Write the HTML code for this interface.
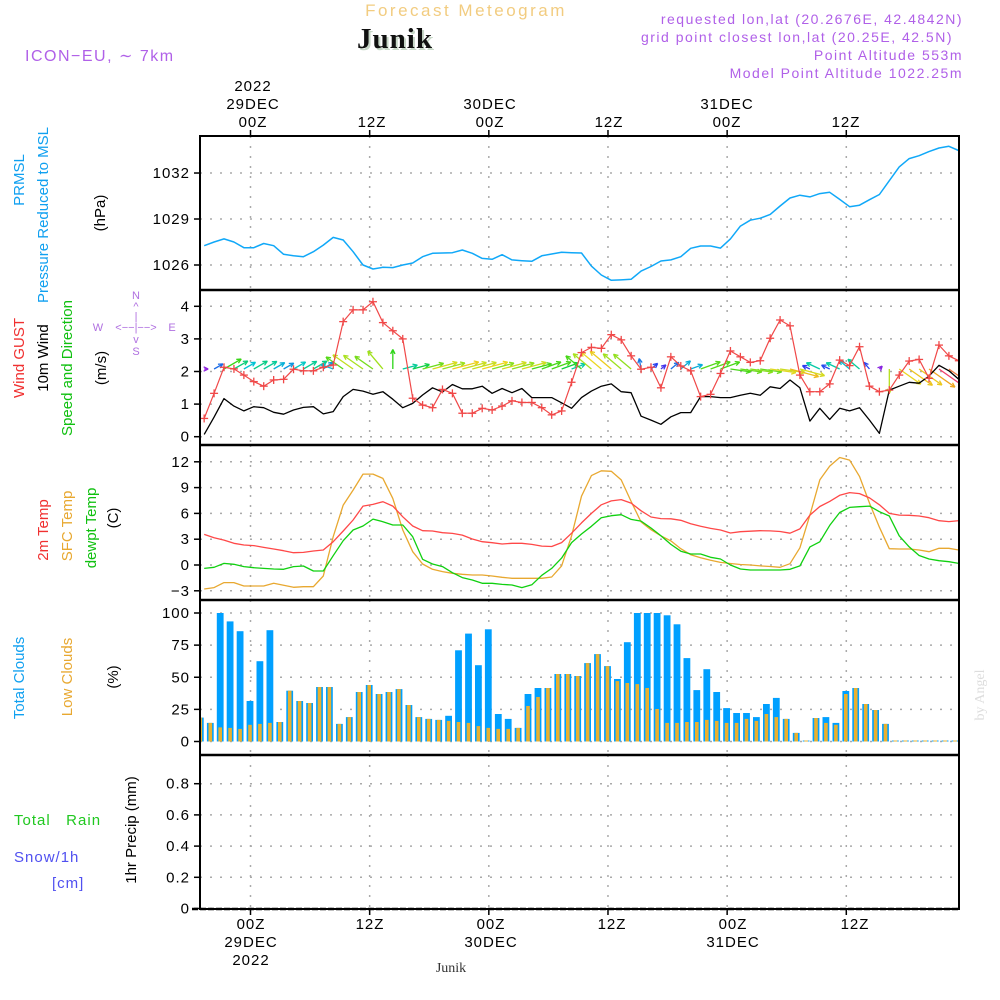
<!DOCTYPE html>
<html><head><meta charset="utf-8"><title>Forecast Meteogram Junik</title>
<style>
html,body{margin:0;padding:0;background:#fff;}
svg{display:block;}
text{font-family:"Liberation Sans",sans-serif;}
.tk{font-size:15px;fill:#000;letter-spacing:1px;}
.hd{font-size:14px;fill:#b060e8;letter-spacing:1.5px;}
.lab{font-size:15px;}
</style></head>
<body>
<svg id="chart" width="1000" height="1000" viewBox="0 0 1000 1000" xmlns="http://www.w3.org/2000/svg">
  <defs><clipPath id="plotclip"><rect x="201" y="137" width="757" height="771"/></clipPath></defs>
  <!-- header -->
  <text x="466" y="16" text-anchor="middle" style="font-size:17px;fill:#f2cc80;letter-spacing:2.5px">Forecast Meteogram</text>
  <text x="397" y="50" text-anchor="middle" style="font-family:'Liberation Serif',serif;font-size:29px;font-weight:bold;fill:#c8d8c8;letter-spacing:1px">Junik</text>
  <text x="395" y="48" text-anchor="middle" style="font-family:'Liberation Serif',serif;font-size:29px;font-weight:bold;fill:#111;letter-spacing:1px">Junik</text>
  <text x="25" y="61" class="hd" style="font-size:16px">ICON−EU, ∼ 7km</text>
  <text x="963" y="24" text-anchor="end" class="hd">requested lon,lat (20.2676E, 42.4842N)</text>
  <text x="953" y="42" text-anchor="end" class="hd">grid point closest lon,lat (20.25E, 42.5N)</text>
  <text x="963" y="60" text-anchor="end" class="hd">Point Altitude 553m</text>
  <text x="963" y="78" text-anchor="end" class="hd">Model Point Altitude 1022.25m</text>

  <!-- left axis titles -->
  <g>
    <text transform="translate(24,180) rotate(-90)" text-anchor="middle" class="lab" fill="#10a0f0">PRMSL</text>
    <text transform="translate(48,215) rotate(-90)" text-anchor="middle" class="lab" fill="#10a0f0">Pressure Reduced to MSL</text>
    <text transform="translate(105,213) rotate(-90)" text-anchor="middle" class="lab" fill="#000">(hPa)</text>
  </g>
  <g>
    <text transform="translate(24,358) rotate(-90)" text-anchor="middle" class="lab" fill="#f03030">Wind GUST</text>
    <text transform="translate(48,358) rotate(-90)" text-anchor="middle" class="lab" fill="#000">10m Wind</text>
    <text transform="translate(72,368) rotate(-90)" text-anchor="middle" class="lab" fill="#10c010">Speed and Direction</text>
    <text transform="translate(106,368) rotate(-90)" text-anchor="middle" class="lab" fill="#000">(m/s)</text>
  </g>
  <g style="font-size:11px;fill:#b070e0">
    <text x="136" y="299" text-anchor="middle">N</text>
    <text x="136" y="310" text-anchor="middle">^</text>
    <text x="136" y="320" text-anchor="middle">|</text>
    <text x="98" y="331" text-anchor="middle">W</text>
    <text x="136" y="331" text-anchor="middle">&lt;−−|−−&gt;</text>
    <text x="172" y="331" text-anchor="middle">E</text>
    <text x="136" y="343" text-anchor="middle">v</text>
    <text x="136" y="355" text-anchor="middle">S</text>
  </g>
  <g>
    <text transform="translate(48,530) rotate(-90)" text-anchor="middle" class="lab" fill="#f03030">2m Temp</text>
    <text transform="translate(72,526) rotate(-90)" text-anchor="middle" class="lab" fill="#e8a830">SFC Temp</text>
    <text transform="translate(96,528) rotate(-90)" text-anchor="middle" class="lab" fill="#10c010">dewpt Temp</text>
    <text transform="translate(118,518) rotate(-90)" text-anchor="middle" class="lab" fill="#000">(C)</text>
  </g>
  <g>
    <text transform="translate(24,678) rotate(-90)" text-anchor="middle" class="lab" fill="#10a0f0">Total Clouds</text>
    <text transform="translate(72,677) rotate(-90)" text-anchor="middle" class="lab" fill="#e8a830">Low Clouds</text>
    <text transform="translate(118,677) rotate(-90)" text-anchor="middle" class="lab" fill="#000">(%)</text>
  </g>
  <g>
    <text transform="translate(136,830) rotate(-90)" text-anchor="middle" class="lab" fill="#000">1hr Precip (mm)</text>
    <text x="14" y="825" class="lab" fill="#20c820" style="letter-spacing:1px">Total&#160;&#160;&#160;Rain</text>
    <text x="14" y="862" class="lab" fill="#5050f0" style="letter-spacing:1px">Snow/1h</text>
    <text x="52" y="888" class="lab" fill="#5050f0" style="letter-spacing:1px">[cm]</text>
  </g>
  <text transform="translate(984,695) rotate(-90)" text-anchor="middle" style="font-family:'Liberation Serif',serif;font-size:14px;fill:#ddd">by Angel</text>

  <!-- top time labels -->
  <g class="tk">
    <text x="253" y="91" text-anchor="middle" class="tk">2022</text>
    <text x="253" y="109" text-anchor="middle" class="tk">29DEC</text>
    <text x="253" y="127" text-anchor="middle" class="tk">00Z</text>
    <text x="372" y="127" text-anchor="middle" class="tk">12Z</text>
    <text x="490" y="109" text-anchor="middle" class="tk">30DEC</text>
    <text x="490" y="127" text-anchor="middle" class="tk">00Z</text>
    <text x="609" y="127" text-anchor="middle" class="tk">12Z</text>
    <text x="727" y="109" text-anchor="middle" class="tk">31DEC</text>
    <text x="727" y="127" text-anchor="middle" class="tk">00Z</text>
    <text x="846" y="127" text-anchor="middle" class="tk">12Z</text>
  </g>
  <!-- bottom time labels -->
  <g>
    <text x="251" y="929" text-anchor="middle" class="tk">00Z</text>
    <text x="251" y="947" text-anchor="middle" class="tk">29DEC</text>
    <text x="251" y="965" text-anchor="middle" class="tk">2022</text>
    <text x="370" y="929" text-anchor="middle" class="tk">12Z</text>
    <text x="491" y="929" text-anchor="middle" class="tk">00Z</text>
    <text x="491" y="947" text-anchor="middle" class="tk">30DEC</text>
    <text x="612" y="929" text-anchor="middle" class="tk">12Z</text>
    <text x="733" y="929" text-anchor="middle" class="tk">00Z</text>
    <text x="733" y="947" text-anchor="middle" class="tk">31DEC</text>
    <text x="855" y="929" text-anchor="middle" class="tk">12Z</text>
    <text x="451" y="972" text-anchor="middle" style="font-family:'Liberation Serif',serif;font-size:14px;fill:#333">Junik</text>
  </g>
  <g id="axes"></g>
  <g id="plot" clip-path="url(#plotclip)"></g>
  <g id="frames"></g>
</svg>
<script>
// ---- data (hours -5 .. 71 relative to 29DEC 00Z) ----
var hours = [];
for (var i = -5; i <= 71; i++) hours.push(i);
var pressure = [1027.26,1027.5,1027.7,1027.5,1027.13,1027.13,1027.4,1027.26,1026.7,1026.6,1026.54,1026.87,1027.3,1027.8,1027.63,1026.87,1026.0,1025.74,1025.85,1025.83,1026.0,1026.13,1026.54,1026.76,1026.78,1026.8,1026.98,1026.76,1026.43,1026.37,1026.67,1026.33,1026.28,1026.24,1026.6,1026.72,1026.83,1026.8,1026.78,1025.93,1025.35,1025.0,1025.03,1025.07,1025.6,1025.9,1026.26,1026.33,1026.54,1027.09,1027.24,1027.24,1027.1,1027.7,1028.54,1028.92,1029.05,1029.3,1029.85,1030.37,1030.55,1030.44,1030.66,1030.74,1030.28,1029.8,1029.9,1030.26,1030.6,1031.5,1032.4,1032.94,1033.13,1033.4,1033.63,1033.74,1033.46];
var windSpeed = [0.07,0.6,1.17,0.94,0.79,0.92,0.89,0.75,0.69,0.82,0.9,0.92,0.7,0.77,1.23,1.45,1.4,1.3,1.38,1.15,0.89,1.02,1.28,1.5,1.37,1.6,1.47,1.47,1.55,1.33,1.48,1.35,1.48,1.2,1.2,1.2,1.04,0.87,1.2,1.4,1.55,1.62,1.38,1.35,0.63,0.51,0.38,0.61,0.74,0.74,1.23,1.23,1.2,1.2,1.27,1.33,1.27,1.53,1.48,1.74,1.5,0.48,0.87,0.53,0.87,0.79,0.89,0.51,0.1,1.43,1.55,1.67,1.64,1.86,2.19,2.02,1.76];
var windGust = [0.56,1.33,2.13,2.08,1.89,1.69,1.55,1.74,1.76,2.07,2.02,2.02,2.13,2.2,3.53,3.89,3.89,4.14,3.5,3.25,3.0,1.18,0.97,0.89,1.45,1.33,0.72,0.72,0.87,0.82,0.94,1.1,1.05,1.05,0.89,0.67,0.79,1.67,2.58,2.74,2.71,3.13,2.97,2.48,2.07,2.13,1.5,2.45,2.17,2.02,1.23,1.3,1.94,2.63,2.45,2.28,2.33,3.02,3.58,3.4,1.89,1.38,1.38,1.62,2.35,2.18,2.76,1.55,1.38,1.43,1.89,2.32,2.37,1.79,2.81,2.48,2.33];
var windDirAngle = [0,30,30,30,30,30,30,30,30,30,30,30,35,160,145,145,145,145,130,90,15,15,15,15,15,15,15,15,15,15,15,15,15,15,20,20,20,20,140,140,140,140,140,140,100,40,40,40,40,20,20,20,20,-8,-8,-8,-8,-8,-8,-15,-15,155,155,155,155,140,140,130,45,-90,-35,-35,-35,-35,-35,-35,-35];
var temp2m = [3.56,3.17,2.9,2.52,2.32,2.25,2.05,1.86,1.66,1.43,1.47,1.63,1.74,2.71,3.95,5.23,6.85,7.05,7.36,6.85,5.61,4.53,3.99,3.95,3.76,3.68,3.48,3.02,2.71,2.59,2.44,2.52,2.52,2.4,2.2,2.15,2.6,3.7,4.9,6.0,7.0,7.45,7.6,7.2,6.3,5.58,5.4,5.37,5.2,4.8,4.5,4.26,4.07,3.72,3.87,3.93,3.99,3.97,3.9,3.7,4.2,5.8,6.8,7.4,8.1,8.42,8.3,7.8,7.0,6.0,5.8,5.78,5.7,5.5,5.15,5.05,5.15];
var tempSfc = [-2.79,-2.63,-2.05,-2.05,-2.44,-2.44,-2.44,-2.13,-2.36,-2.59,-2.52,-2.52,-1.28,3.29,6.97,8.71,10.57,10.57,10.07,7.74,4.07,1.55,0.12,-0.5,-0.77,-0.97,-1.08,-1.16,-1.16,-1.28,-1.43,-1.55,-1.55,-1.55,-1.55,-1.4,-0.1,3.4,8.0,10.4,10.95,10.9,9.9,7.4,5.0,4.1,3.4,2.8,1.9,1.2,0.85,0.55,0.3,0.18,0.06,0,-0.1,-0.18,-0.27,0.15,2.0,5.8,9.9,11.5,12.5,12.2,10.3,7.2,4.4,1.9,1.86,1.86,1.74,1.55,1.94,1.94,1.74];
var dewpoint = [-0.39,-0.27,0.19,0.08,-0.19,-0.31,-0.39,-0.46,-0.5,-0.19,-0.12,-0.7,-0.7,1.08,2.83,4.07,4.53,5.34,5.03,4.65,4.65,3.29,0.66,0.12,-0.19,-0.89,-1.47,-1.74,-2.13,-2.13,-2.25,-2.32,-2.63,-2.3,-1.2,-0.4,0.8,2.6,3.6,4.5,5.5,5.73,5.85,5.3,5.1,4.3,3.4,2.4,1.6,1.28,1.28,0.89,0.7,0,-0.46,-0.58,-0.58,-0.58,-0.58,-0.5,-0.1,2.1,2.7,4.6,6.1,6.7,6.78,6.85,6.2,5.7,3.4,2.1,1.1,0.7,0.5,0.38,0.19];
var totalClouds = [18.6,14.5,100,93.5,85.8,31.5,62.5,86.6,15.2,39.5,31.5,30,42.4,42.4,13.7,19,38.5,44,37,38.5,40.8,28.4,19,17.6,16.8,20,71,84,59.4,87.3,21.4,17.6,10.6,37,41.6,41.6,52.5,52.5,51,61,68,58.7,48.6,77.3,100,100,100,98.2,91.2,64.9,40,56.3,38.5,26,22.2,22.2,19,29.2,33.9,17.6,6.7,0.5,18.3,19,14.5,39.3,41.6,29.2,24.5,13.7,0,0,0,0,0,0,0];
var lowClouds = [18.6,14.5,11,10.6,9.8,13,13.7,14.5,15.2,39.5,31.5,30,42.4,42.4,13.7,19,38.5,44,37,38.5,40.8,28.4,19,17.6,16.8,16,15.2,14.5,12,10.6,9.8,9.8,10.6,27.6,34.6,41.6,52.5,52.5,51,61,68,58.7,47,45.5,44.7,41.6,25.3,14.5,14.5,15.2,15.2,16.8,16,14.5,14.5,17.6,16,21.4,19,17.6,6.7,0.5,18.3,14.5,13,37,41.6,29.2,24.5,13.7,0,0,0,0,0,0,0];
var precip = hours.map(function(){return 0;});
var timeTicks = [0,12,24,36,48,60];
var pressTicks = [1026,1029,1032];
var windTicks = [0,1,2,3,4];
var tempTicks = [-3,0,3,6,9,12];
var cloudTicks = [0,25,50,75,100];
var precipTicks = [0,0.2,0.4,0.6,0.8];

// ---- layout ----
var X0 = 200, X1 = 959;
function xScale(h){ return 250.5 + 9.93*h; }
var LINE_SHIFT = 3.3;
function xl(h){ return xScale(h) + LINE_SHIFT; }
var panels = {
  press: {top:136, bot:290, y:function(v){return 265 - (v-1026)*15.33;}},
  wind:  {top:290, bot:445, y:function(v){return 436.7 - v*32.6;}},
  temp:  {top:445, bot:600, y:function(v){return 565 - v*8.6;}},
  cloud: {top:600, bot:755, y:function(v){return 741.5 - v*1.285;}},
  precip:{top:755, bot:909, y:function(v){return 908.5 - v*156;}}
};
var NS = "http://www.w3.org/2000/svg";
var plot = document.getElementById('plot');
var axes = document.getElementById('axes');
var frames = document.getElementById('frames');
function mk(tag, attrs, parent){
  var e = document.createElementNS(NS, tag);
  for (var k in attrs) e.setAttribute(k, attrs[k]);
  (parent||plot).appendChild(e);
  return e;
}
function lineOf(arr, yfn, color, name, width){
  var pts = arr.map(function(v,i){ return xl(hours[i]).toFixed(1)+','+yfn(v).toFixed(1); }).join(' ');
  var p = mk('polyline', {points:pts, fill:'none', stroke:color, 'stroke-width':width||1.3, 'stroke-linejoin':'round'});
  
  
  return p;
}
function gridAndTicks(pn, ticks, fmt, name){
  var P = panels[pn];
  var g = mk('g', {}, axes);
  
  
  ticks.forEach(function(t){
    var y = P.y(t);
    mk('line', {x1:X0, x2:X1, y1:y, y2:y, stroke:'#aaa', 'stroke-width':1.5, 'stroke-dasharray':'2,8'}, g);
    mk('line', {x1:X0-6, x2:X0, y1:y, y2:y, stroke:'#000', 'stroke-width':1.5}, g);
    var tx = mk('text', {x:X0-10, y:y+5, 'text-anchor':'end', 'class':'tk'}, g);
    tx.textContent = fmt(t);
  });
  timeTicks.forEach(function(h){
    var x = xScale(h);
    mk('line', {x1:x, x2:x, y1:P.top, y2:P.bot, stroke:'#aaa', 'stroke-width':1.5, 'stroke-dasharray':'2,8'}, g);
  });
}
gridAndTicks('press', pressTicks, function(t){return String(t);}, 'pressure-grid');
gridAndTicks('wind', windTicks, function(t){return String(t);}, 'wind-grid');
gridAndTicks('temp', tempTicks, function(t){return t<0?'−'+(-t):String(t);}, 'temperature-grid');
gridAndTicks('cloud', cloudTicks, function(t){return String(t);}, 'cloud-grid');
gridAndTicks('precip', precipTicks, function(t){return t===0?'0':t.toFixed(1);}, 'precip-grid');

timeTicks.forEach(function(h){
  var t = mk('line', {x1:xScale(h), x2:xScale(h), y1:130, y2:136, stroke:'#000', 'stroke-width':1.5}, axes);
  
  
});

// pressure
lineOf(pressure, panels.press.y, '#10a8f8', 'pressure-line', 1.5);

// wind arrows
function speedColor(s){
  var stops = [[0,[160,30,220]],[0.5,[40,60,240]],[0.8,[0,200,210]],[1.1,[20,210,20]],[1.4,[170,225,30]],[1.55,[235,215,30]],[1.9,[240,160,30]],[2.3,[240,30,140]]];
  if (s<=stops[0][0]) return 'rgb('+stops[0][1].join(',')+')';
  for (var i=1;i<stops.length;i++){
    if (s<=stops[i][0]){
      var a=stops[i-1], b=stops[i], f=(s-a[0])/(b[0]-a[0]);
      var c=a[1].map(function(v,j){return Math.round(v+(b[1][j]-v)*f);});
      return 'rgb('+c.join(',')+')';
    }
  }
  return 'rgb('+stops[stops.length-1][1].join(',')+')';
}
var arrowG = mk('g', {});


windSpeed.forEach(function(s,i){
  var x = xl(hours[i]), y = 369;
  var a = windDirAngle[i]*Math.PI/180;
  var len = Math.max(4, 17*s);
  var x2 = x + len*Math.cos(a), y2 = y - len*Math.sin(a);
  var col = speedColor(s);
  var g = mk('g', {stroke:col, 'stroke-width':1.3, fill:'none'}, arrowG);
  
  
  mk('line', {x1:x, y1:y, x2:x2, y2:y2}, g);
  var hl = 5;
  [a+Math.PI-0.45, a+Math.PI+0.45].forEach(function(b){
    mk('line', {x1:x2, y1:y2, x2:x2+hl*Math.cos(b), y2:y2-hl*Math.sin(b)}, g);
  });
});
lineOf(windSpeed, panels.wind.y, '#000', 'wind-speed-line', 1.3);
lineOf(windGust, panels.wind.y, '#f04848', 'wind-gust-line', 1.2);
var gm = mk('g', {stroke:'#f04848', 'stroke-width':1.3});


windGust.forEach(function(v,i){
  var x = xl(hours[i]), y = panels.wind.y(v);
  mk('line', {x1:x-4, x2:x+4, y1:y, y2:y}, gm);
  mk('line', {x1:x, x2:x, y1:y-4, y2:y+4}, gm);
});

// temperatures
lineOf(tempSfc, panels.temp.y, '#e8a830', 'sfc-temp-line', 1.3);
lineOf(dewpoint, panels.temp.y, '#10d010', 'dewpoint-line', 1.3);
lineOf(temp2m, panels.temp.y, '#ff4848', 'temp-2m-line', 1.3);

// clouds
var cg = mk('g', {});


var y0c = panels.cloud.y(0);
totalClouds.forEach(function(v,i){
  var xc = xScale(hours[i]) - 0.5;
  var yt = panels.cloud.y(v);
  var h1 = Math.max(1, y0c-yt);
  var b = mk('rect', {x:(xc-3.4).toFixed(1), y:(y0c-h1).toFixed(1), width:6.8, height:h1.toFixed(1), fill:'#00a0ff'}, cg);
  
  
  var yl = panels.cloud.y(lowClouds[i]);
  var h2 = Math.max(1, y0c-yl);
  var o = mk('rect', {x:(xc-1.8).toFixed(1), y:(y0c-h2).toFixed(1), width:3.6, height:h2.toFixed(1), fill:'#e8b030'}, cg);
  
  
});

// precip (all zero)
var pg = mk('g', {});


precip.forEach(function(v,i){
  if (v<=0) return;
  var xc = xScale(hours[i]);
  var y = panels.precip.y(v);
  var r = mk('rect', {x:xc-3, y:y, width:6, height:panels.precip.y(0)-y, fill:'#20c820'}, pg);
  
  
});

// panel frames
var fr = mk('g', {stroke:'#000', fill:'none'}, frames);


mk('rect', {x:X0, y:136, width:X1-X0, height:909-136, 'stroke-width':2}, fr);
[290,445,600,755].forEach(function(y){
  mk('line', {x1:X0, x2:X1, y1:y, y2:y, 'stroke-width':2.5}, fr);
});
mk('line', {x1:192, x2:X1+1, y1:909, y2:909, 'stroke-width':2.5, 'stroke-dasharray':'6,2'}, fr);
timeTicks.forEach(function(h){
  mk('line', {x1:xScale(h), x2:xScale(h), y1:909, y2:915, 'stroke-width':1.5}, fr);
});
</script>
</body></html>
